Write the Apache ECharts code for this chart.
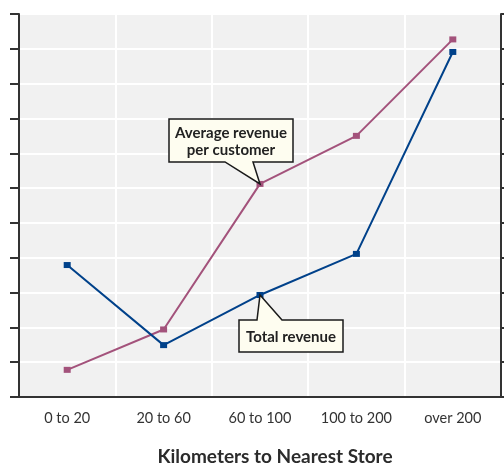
<!DOCTYPE html>
<html><head><meta charset="utf-8">
<script src="https://cdn.jsdelivr.net/npm/echarts@6/dist/echarts.min.js"></script>
<style>html,body{margin:0;padding:0;background:#fff}#c{width:504px;height:464px}</style>
</head><body><div id="c"></div>
<script>
var categories = ['0 to 20', '20 to 60', '60 to 100', '100 to 200', 'over 200'];
var totalRevenue = [3.79, 1.49, 2.93, 4.11, 9.91];
var avgRevenue = [0.78, 1.94, 6.12, 7.5, 10.27];
var xTitle = 'Kilometers to Nearest Store';
var avgLabel = 'Average revenue\nper customer';
var totalLabel = 'Total revenue';

var BLUE = '#00418a', MAUVE = '#a3527b', FONT = 'Lato, "Open Sans", sans-serif';
var chart = echarts.init(document.getElementById('c'), null, {renderer: 'canvas'});
var yCommon = {
  type: 'value', min: 0, max: 11, interval: 1,
  axisLabel: {show: false},
  axisLine: {show: true, lineStyle: {color: '#333', width: 2}},
  axisTick: {show: true, length: 9, lineStyle: {color: '#333', width: 2}},
  splitLine: {show: true, lineStyle: {color: '#fff', width: 2}}
};
chart.setOption({
  animation: false,
  grid: {left: 19, right: 3, top: 14, bottom: 67, show: true, backgroundColor: '#f1f1f1', borderWidth: 0},
  title: {text: xTitle, left: 270, top: 442, textAlign: 'center',
    textStyle: {fontFamily: FONT, fontSize: 19, fontWeight: 'bold', color: '#2b2b2b'}},
  xAxis: {
    type: 'category', data: categories, boundaryGap: true,
    axisLine: {lineStyle: {color: '#333', width: 2}},
    axisTick: {show: false},
    axisLabel: {margin: 14, fontSize: 14.5, color: '#333', fontFamily: FONT},
    splitLine: {show: true, lineStyle: {color: '#fff', width: 2}}
  },
  yAxis: [
    Object.assign({}, yCommon, {position: 'left'}),
    Object.assign({}, yCommon, {position: 'right', splitLine: {show: false}})
  ],
  series: [
    {name: 'Average revenue per customer', type: 'line', data: avgRevenue,
     symbol: 'rect', symbolSize: [7, 6], lineStyle: {color: MAUVE, width: 2},
     itemStyle: {color: MAUVE}, z: 3},
    {name: 'Total revenue', type: 'line', data: totalRevenue,
     symbol: 'rect', symbolSize: [7, 6], lineStyle: {color: BLUE, width: 2},
     itemStyle: {color: BLUE}, z: 4}
  ]
});

function callout(tip, box, base, text, below) {
  var pts;
  if (below) {
    pts = [[box[0], box[1]], [box[2], box[1]], [box[2], box[3]], [base[1], box[3]], tip, [base[0], box[3]], [box[0], box[3]]];
  } else {
    pts = [[box[0], box[1]], [base[0], box[1]], tip, [base[1], box[1]], [box[2], box[1]], [box[2], box[3]], [box[0], box[3]]];
  }
  return [
    {type: 'polygon', shape: {points: pts}, style: {fill: '#fefdf0', stroke: '#1a1a1a', lineWidth: 1.5}, z: 10},
    {type: 'text', x: (box[0] + box[2]) / 2, y: (box[1] + box[3]) / 2 + 1, z: 11,
     style: {text: text, fill: '#222', font: 'bold 15px ' + FONT, align: 'center', verticalAlign: 'middle', lineHeight: 17}}
  ];
}
var pA = chart.convertToPixel({seriesIndex: 0}, [2, avgRevenue[2]]);
var pT = chart.convertToPixel({seriesIndex: 1}, [2, totalRevenue[2]]);
var g = [];
g = g.concat(callout(pA, [pA[0] - 91, pA[1] - 65, pA[0] + 33, pA[1] - 22], [pA[0] - 35, pA[0] - 7], avgLabel, true));
g = g.concat(callout(pT, [pT[0] - 21, pT[1] + 25, pT[0] + 83, pT[1] + 57], [pT[0] - 3, pT[0] + 22], totalLabel, false));
chart.setOption({graphic: g});
</script></body></html>
